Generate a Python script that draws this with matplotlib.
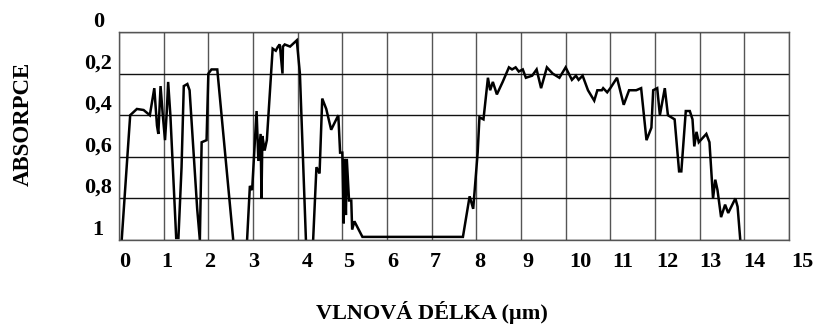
import matplotlib
matplotlib.use("Agg")
import matplotlib.pyplot as plt
import matplotlib.transforms as mtransforms

# absorption spectrum (wavelength in um, absorption 0..1)
wavelength = [0.06, 0.25, 0.40, 0.55, 0.69, 0.79, 0.85, 0.88, 0.93, 0.98, 1.03, 1.07, 1.10, 1.15,
              1.28, 1.33, 1.40, 1.45, 1.53, 1.58, 1.75, 1.81, 1.85, 1.96, 2.00, 2.07, 2.20, 2.57,
              2.86, 2.93, 2.98, 3.08, 3.12, 3.17, 3.19, 3.21, 3.26, 3.31, 3.44, 3.51, 3.56, 3.60,
              3.66, 3.67, 3.71, 3.83, 3.98, 4.05, 4.19, 4.34, 4.42, 4.49, 4.55, 4.64, 4.75, 4.91,
              4.95, 5.00, 5.03, 5.05, 5.08, 5.10, 5.15, 5.20, 5.22, 5.27, 5.45, 7.70, 7.85, 7.93,
              8.03, 8.07, 8.16, 8.26, 8.31, 8.37, 8.46, 8.59, 8.73, 8.80, 8.88, 8.95, 9.04, 9.11,
              9.25, 9.35, 9.45, 9.58, 9.71, 9.86, 10.00, 10.14, 10.23, 10.29, 10.38, 10.50, 10.64,
              10.71, 10.81, 10.84, 10.93, 11.00, 11.15, 11.30, 11.42, 11.58, 11.69, 11.81, 11.92,
              11.96, 12.05, 12.11, 12.22, 12.29, 12.44, 12.54, 12.59, 12.69, 12.78, 12.84, 12.88,
              12.93, 12.98, 13.15, 13.22, 13.30, 13.35, 13.40, 13.48, 13.57, 13.64, 13.80, 13.85,
              13.91]
absorption = [1.00, 0.40, 0.37, 0.375, 0.40, 0.27, 0.45, 0.49, 0.26, 0.40, 0.52, 0.38, 0.24, 0.40,
              0.99, 0.99, 0.65, 0.26, 0.25, 0.28, 0.85, 1.00, 0.53, 0.52, 0.20, 0.18, 0.18, 1.03,
              1.03, 0.74, 0.76, 0.38, 0.62, 0.49, 0.80, 0.50, 0.57, 0.52, 0.08, 0.09, 0.07, 0.06,
              0.20, 0.07, 0.06, 0.07, 0.04, 0.20, 1.03, 1.03, 0.65, 0.68, 0.32, 0.37, 0.47, 0.40,
              0.58, 0.58, 0.92, 0.61, 0.88, 0.61, 0.81, 0.81, 0.95, 0.91, 0.985, 0.985, 0.79, 0.85,
              0.58, 0.41, 0.42, 0.22, 0.28, 0.24, 0.30, 0.24, 0.17, 0.18, 0.17, 0.19, 0.18, 0.22,
              0.21, 0.18, 0.27, 0.17, 0.20, 0.22, 0.17, 0.23, 0.21, 0.23, 0.21, 0.28, 0.33,
              0.28, 0.28, 0.27, 0.29, 0.27, 0.22, 0.35, 0.28, 0.28, 0.27, 0.52, 0.46,
              0.28, 0.27, 0.40, 0.27, 0.40, 0.42, 0.67, 0.67, 0.38, 0.38, 0.42, 0.55,
              0.48, 0.53, 0.49, 0.53, 0.80, 0.71, 0.76, 0.89, 0.83, 0.87, 0.80, 0.84,
              1.00]

x_ticks = list(range(0, 16))
y_ticks = [0, 0.2, 0.4, 0.6, 0.8, 1]
y_tick_labels = ["0", "0,2", "0,4", "0,6", "0,8", "1"]

serif = ["Liberation Serif", "DejaVu Serif"]

fig = plt.figure(figsize=(8.18, 3.34), dpi=100)
ax = fig.add_axes([0.1455, 0.2814, 0.819, 0.6228])

ax.plot(wavelength, absorption, color="black", lw=1.8, solid_joinstyle="miter")

ax.set_xlim(0, 15)
ax.set_ylim(1, 0)
ax.set_xticks(x_ticks)
ax.set_yticks(y_ticks)
ax.tick_params(length=0, labelbottom=False, labelleft=False)
ax.grid(axis="x", color="#555555", lw=1)
ax.grid(axis="y", color="#111111", lw=1)
ax.set_axisbelow(True)
for s in ax.spines.values():
    s.set_color("#555555")
    s.set_linewidth(1)

# tick labels sit a little off the grid lines in the original
x_label_pos = [0.13, 1.07, 2.04, 3.02, 4.21, 5.13, 6.13, 7.07, 8.08, 9.16,
               10.34, 11.28, 12.27, 13.23, 14.22, 15.29]
xtrans = mtransforms.blended_transform_factory(ax.transData, ax.transAxes)
for t, pos in zip(x_ticks, x_label_pos):
    ax.text(pos, -0.105, str(t), transform=xtrans, ha="center", va="center",
            fontsize=16, fontweight="bold", family=serif, clip_on=False)

ytrans = mtransforms.blended_transform_factory(ax.transAxes, ax.transData)
for v, lab in zip(y_ticks, y_tick_labels):
    ax.text(-0.031, v - 0.05, lab, transform=ytrans, ha="center", va="center",
            fontsize=16, fontweight="bold", family=serif, clip_on=False)

fig.text(0.029, 0.629, "ABSORPCE", rotation=90, ha="center", va="center",
         fontsize=16.5, fontweight="bold", family=serif)
fig.text(0.528, 0.063, "VLNOVÁ DÉLKA (µm)", ha="center", va="center",
         fontsize=16, fontweight="bold", family=serif)

fig.savefig("out.png", dpi=100)
